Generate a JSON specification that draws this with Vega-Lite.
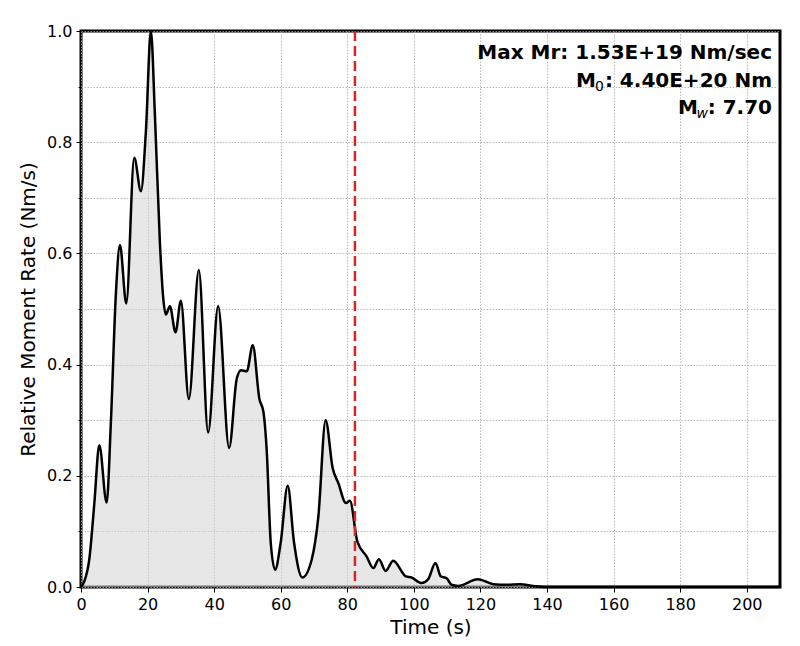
{
  "$schema": "https://vega.github.io/schema/vega-lite/v6.json",
  "width": 699,
  "height": 556,
  "autosize": {"type": "none"},
  "padding": {"left": 81, "top": 31, "right": 20, "bottom": 59},
  "background": "white",
  "config": {
    "font": "DejaVu Sans",
    "view": {"stroke": "black", "strokeWidth": 3},
    "axis": {
      "domain": false,
      "labelFont": "DejaVu Sans",
      "titleFont": "DejaVu Sans",
      "labelFontSize": 16,
      "titleFontSize": 20,
      "titleFontWeight": "normal",
      "labelColor": "black",
      "titleColor": "black",
      "tickColor": "black",
      "tickWidth": 1,
      "gridColor": "#a8a8a8",
      "gridWidth": 0.8,
      "gridDash": [1.5, 1.5],
      "labelPadding": 4,
      "labelFlush": false
    }
  },
  "layer": [
    {
      "data": {
        "values": [
          {"t": 0, "v": 0}, {"t": 1, "v": 0.01}, {"t": 2.5, "v": 0.05}, {"t": 4, "v": 0.15},
          {"t": 5.5, "v": 0.255}, {"t": 7.7, "v": 0.152}, {"t": 9, "v": 0.3}, {"t": 10.5, "v": 0.53},
          {"t": 11.7, "v": 0.615}, {"t": 13.6, "v": 0.51}, {"t": 16.0, "v": 0.772}, {"t": 18.0, "v": 0.712},
          {"t": 19.5, "v": 0.82}, {"t": 21.0, "v": 1.0}, {"t": 22.2, "v": 0.85}, {"t": 23.7, "v": 0.62},
          {"t": 24.7, "v": 0.52}, {"t": 25.5, "v": 0.49}, {"t": 26.7, "v": 0.505}, {"t": 28.4, "v": 0.458},
          {"t": 30.0, "v": 0.515}, {"t": 32.4, "v": 0.338}, {"t": 35.4, "v": 0.57}, {"t": 38.2, "v": 0.278},
          {"t": 41.2, "v": 0.505}, {"t": 44.5, "v": 0.25}, {"t": 46.8, "v": 0.375}, {"t": 48.1, "v": 0.39},
          {"t": 49.8, "v": 0.388}, {"t": 51.6, "v": 0.435}, {"t": 53.6, "v": 0.338}, {"t": 54.8, "v": 0.315},
          {"t": 55.8, "v": 0.245}, {"t": 57.0, "v": 0.08}, {"t": 58.3, "v": 0.031}, {"t": 60.0, "v": 0.08},
          {"t": 62.1, "v": 0.182}, {"t": 64.0, "v": 0.08}, {"t": 66.5, "v": 0.017}, {"t": 69.3, "v": 0.049},
          {"t": 71.3, "v": 0.126}, {"t": 73.5, "v": 0.3}, {"t": 75.6, "v": 0.214}, {"t": 77.3, "v": 0.187},
          {"t": 79.6, "v": 0.151}, {"t": 80.8, "v": 0.155}, {"t": 83.0, "v": 0.082}, {"t": 85.8, "v": 0.055},
          {"t": 87.8, "v": 0.034}, {"t": 89.5, "v": 0.05}, {"t": 91.5, "v": 0.029}, {"t": 93.8, "v": 0.047},
          {"t": 97.6, "v": 0.019}, {"t": 99.3, "v": 0.017}, {"t": 102.3, "v": 0.007}, {"t": 104.3, "v": 0.014},
          {"t": 106.5, "v": 0.043}, {"t": 108.1, "v": 0.019}, {"t": 109.8, "v": 0.016}, {"t": 111.3, "v": 0.004},
          {"t": 113.3, "v": 0.002}, {"t": 119.2, "v": 0.014}, {"t": 123.9, "v": 0.005}, {"t": 127.9, "v": 0.004},
          {"t": 131.9, "v": 0.005}, {"t": 135.9, "v": 0.002}, {"t": 139, "v": 0}, {"t": 210, "v": 0}
        ]
      },
      "layer": [
        {
          "mark": {"type": "area", "interpolate": "monotone", "color": "lightgray", "opacity": 0.55},
          "encoding": {
            "x": {
              "field": "t", "type": "quantitative",
              "scale": {"domain": [0, 210], "nice": false, "zero": false},
              "axis": {
                "title": "Time (s)",
                "values": [0,10,20,30,40,50,60,70,80,90,100,110,120,130,140,150,160,170,180,190,200,210],
                "labelExpr": "datum.value % 20 == 0 ? format(datum.value, 'd') : ''",
                "grid": true,
                "tickSize": {"condition": {"test": "datum.value % 20 == 0", "value": 5}, "value": 3},
                "titlePadding": 5
              }
            },
            "y": {
              "field": "v", "type": "quantitative",
              "scale": {"domain": [0, 1], "nice": false},
              "axis": {
                "title": "Relative Moment Rate (Nm/s)",
                "values": [0,0.1,0.2,0.3,0.4,0.5,0.6,0.7,0.8,0.9,1.0],
                "labelExpr": "round(datum.value * 10) % 2 == 0 ? format(datum.value, '.1f') : ''",
                "grid": true,
                "tickSize": {"condition": {"test": "round(datum.value * 10) % 2 == 0", "value": 5}, "value": 3},
                "titlePadding": 8
              }
            }
          }
        },
        {
          "mark": {"type": "line", "interpolate": "monotone", "color": "black", "strokeWidth": 2.5},
          "encoding": {
            "x": {"field": "t", "type": "quantitative"},
            "y": {"field": "v", "type": "quantitative"}
          }
        }
      ]
    },
    {
      "data": {"values": [{"t": 82.3}]},
      "mark": {"type": "rule", "color": "#d62728", "strokeWidth": 2.5, "strokeDash": [10, 5]},
      "encoding": {"x": {"field": "t", "type": "quantitative"}}
    },
    {
      "data": {
        "values": [
          {"t": 207.6, "v": 0.95, "label": "Max Mr: 1.53E+19 Nm/sec"},
          {"t": 207.6, "v": 0.8995, "label": ": 4.40E+20 Nm"},
          {"t": 207.6, "v": 0.851, "label": ": 7.70"}
        ]
      },
      "mark": {"type": "text", "align": "right", "baseline": "alphabetic", "fontWeight": "bold", "fontSize": 20, "font": "DejaVu Sans", "color": "black"},
      "encoding": {
        "x": {"field": "t", "type": "quantitative"},
        "y": {"field": "v", "type": "quantitative"},
        "text": {"field": "label"}
      }
    },
    {
      "data": {"values": [{"t": 207.6, "v": 0.8995, "label": "M"}]},
      "mark": {"type": "text", "align": "right", "baseline": "alphabetic", "fontWeight": "bold", "fontSize": 20, "font": "DejaVu Sans", "color": "black", "dx": -176},
      "encoding": {
        "x": {"field": "t", "type": "quantitative"},
        "y": {"field": "v", "type": "quantitative"},
        "text": {"field": "label"}
      }
    },
    {
      "data": {"values": [{"t": 207.6, "v": 0.8995, "label": "0"}]},
      "mark": {"type": "text", "align": "right", "baseline": "alphabetic", "fontWeight": "normal", "fontSize": 14, "font": "DejaVu Sans", "color": "black", "dx": -168, "dy": 4},
      "encoding": {
        "x": {"field": "t", "type": "quantitative"},
        "y": {"field": "v", "type": "quantitative"},
        "text": {"field": "label"}
      }
    },
    {
      "data": {"values": [{"t": 207.6, "v": 0.851, "label": "M"}]},
      "mark": {"type": "text", "align": "right", "baseline": "alphabetic", "fontWeight": "bold", "fontSize": 20, "font": "DejaVu Sans", "color": "black", "dx": -74},
      "encoding": {
        "x": {"field": "t", "type": "quantitative"},
        "y": {"field": "v", "type": "quantitative"},
        "text": {"field": "label"}
      }
    },
    {
      "data": {"values": [{"t": 207.6, "v": 0.851, "label": "w"}]},
      "mark": {"type": "text", "align": "right", "baseline": "alphabetic", "fontStyle": "italic", "fontSize": 14, "font": "DejaVu Sans", "color": "black", "dx": -64, "dy": 4},
      "encoding": {
        "x": {"field": "t", "type": "quantitative"},
        "y": {"field": "v", "type": "quantitative"},
        "text": {"field": "label"}
      }
    }
  ]
}
